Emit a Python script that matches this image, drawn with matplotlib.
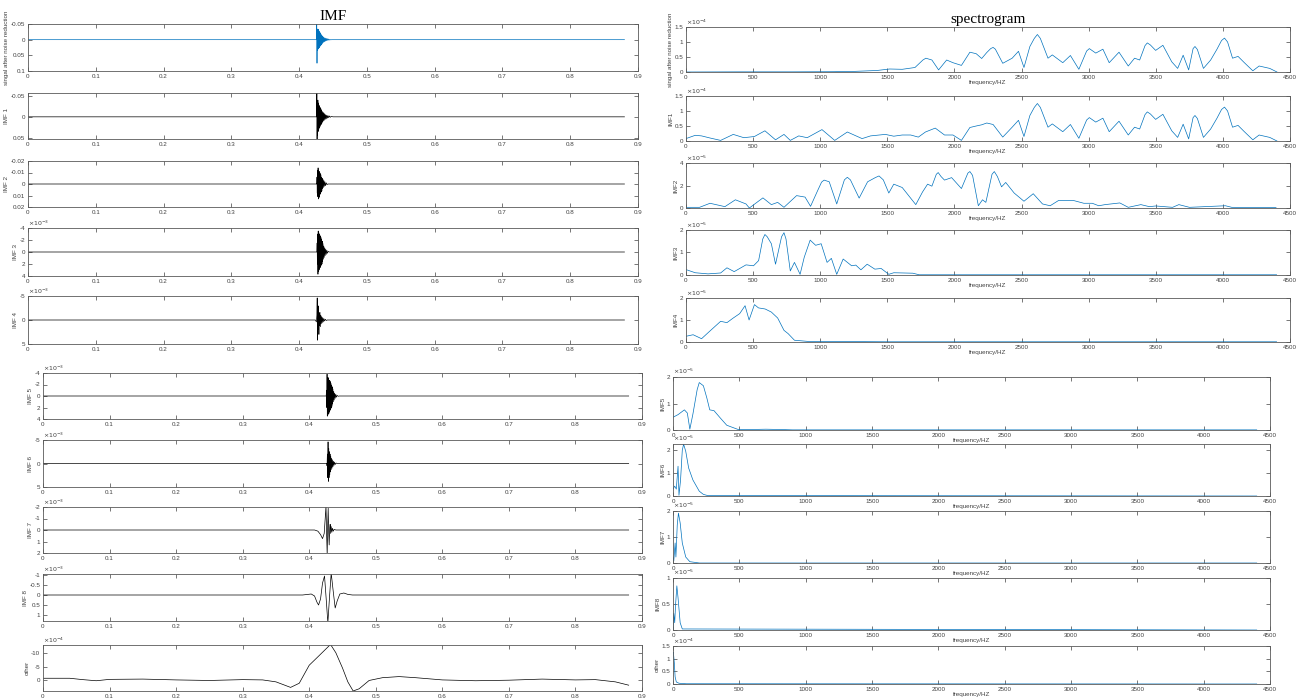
import matplotlib
matplotlib.use('Agg')
import matplotlib.pyplot as plt

plt.rcParams['font.family'] = ['Liberation Sans', 'DejaVu Sans']

# ==================== time-domain data (left column) ====================
# (time s, amplitude) points; values in the units shown on each axis
SIG = [(0, 0), (0.4255, 0), (0.4260, -0.055), (0.4264, 0.075), (0.4268, -0.03), (0.4272, 0.035),
       (0.4276, -0.034), (0.4280, 0.03), (0.4284, -0.032), (0.4288, 0.028), (0.4292, -0.028),
       (0.4296, 0.026), (0.4300, -0.025), (0.4305, 0.022), (0.4310, -0.022), (0.4315, 0.02),
       (0.4320, -0.018), (0.4325, 0.017), (0.4330, -0.015), (0.4335, 0.014), (0.4340, -0.012),
       (0.4345, 0.011), (0.4350, -0.01), (0.4356, 0.009), (0.4362, -0.008), (0.4368, 0.007),
       (0.4374, -0.006), (0.4380, 0.006), (0.4387, -0.005), (0.4394, 0.004), (0.4401, -0.004),
       (0.4408, 0.003), (0.4416, -0.003), (0.4424, 0.002), (0.4432, -0.002), (0.4442, 0.0015),
       (0.4452, -0.001), (0.4465, 0.0005), (0.4480, 0), (0.88, 0)]

IMF1 = [(0, 0), (0.4258, 0), (0.4262, -0.07), (0.4265, 0.07), (0.4269, -0.035), (0.4273, 0.045),
        (0.4277, -0.04), (0.4281, 0.035), (0.4285, -0.033), (0.4289, 0.03), (0.4293, -0.028),
        (0.4297, 0.027), (0.4301, -0.025), (0.4306, 0.024), (0.4311, -0.022), (0.4316, 0.02),
        (0.4321, -0.019), (0.4326, 0.018), (0.4331, -0.016), (0.4336, 0.015), (0.4341, -0.013),
        (0.4347, 0.012), (0.4353, -0.011), (0.4359, 0.01), (0.4365, -0.009), (0.4371, 0.008),
        (0.4378, -0.007), (0.4385, 0.006), (0.4392, -0.005), (0.4400, 0.005), (0.4408, -0.004),
        (0.4417, 0.003), (0.4426, -0.003), (0.4436, 0.002), (0.4447, -0.002), (0.4460, 0.001),
        (0.4475, -0.001), (0.4500, 0), (0.88, 0)]

IMF2 = [(0, 0), (0.4260, 0), (0.4264, -0.006), (0.4268, 0.008), (0.4272, -0.012), (0.4276, 0.011),
        (0.4280, -0.014), (0.4284, 0.013), (0.4288, -0.012), (0.4292, 0.012), (0.4296, -0.011),
        (0.4300, 0.011), (0.4304, -0.01), (0.4308, 0.009), (0.4312, -0.009), (0.4316, 0.008),
        (0.4320, -0.008), (0.4325, 0.007), (0.4330, -0.006), (0.4335, 0.006), (0.4340, -0.005),
        (0.4346, 0.004), (0.4352, -0.004), (0.4358, 0.003), (0.4365, -0.003), (0.4372, 0.002),
        (0.4380, -0.002), (0.4390, 0.0015), (0.4400, -0.001), (0.4412, 0.0005), (0.4425, 0), (0.88, 0)]

IMF3 = [(0, 0), (0.4262, 0), (0.4266, -1.5), (0.4270, 2.0), (0.4274, -3.0), (0.4278, 3.7),
        (0.4282, -3.5), (0.4286, 3.2), (0.4290, -3.2), (0.4294, 3.0), (0.4298, -3.0), (0.4302, 2.8),
        (0.4306, -2.8), (0.4310, 2.6), (0.4314, -2.6), (0.4318, 2.4), (0.4322, -2.4), (0.4327, 2.2),
        (0.4332, -2.1), (0.4337, 2.0), (0.4342, -1.8), (0.4347, 1.6), (0.4352, -1.4), (0.4358, 1.2),
        (0.4364, -1.0), (0.4370, 0.9), (0.4377, -0.7), (0.4384, 0.6), (0.4392, -0.5), (0.4400, 0.4),
        (0.4409, -0.3), (0.4418, 0.2), (0.4430, -0.1), (0.4445, 0), (0.88, 0)]

IMF4 = [(0, 0), (0.4240, 0), (0.4255, 0.4), (0.4262, -1.0), (0.4267, -4.6), (0.4272, 4.2),
        (0.4277, -3.0), (0.4282, 2.0), (0.4287, -2.8), (0.4292, 3.0), (0.4297, -1.5), (0.4302, 1.2),
        (0.4308, -1.6), (0.4314, 1.4), (0.4320, -1.0), (0.4326, 0.8), (0.4333, -0.7), (0.4340, 0.6),
        (0.4348, -0.5), (0.4356, 0.4), (0.4365, -0.3), (0.4375, 0.2), (0.4387, -0.15), (0.4400, 0.1),
        (0.4415, 0), (0.88, 0)]

IMF5 = [(0, 0), (0.4255, 0), (0.4260, -1.0), (0.4264, 2.0), (0.4268, -3.8), (0.4272, 3.5),
        (0.4276, -3.0), (0.4280, 3.3), (0.4284, -3.2), (0.4288, 3.0), (0.4292, -3.0), (0.4296, 3.0),
        (0.4300, -2.7), (0.4304, 2.7), (0.4308, -2.7), (0.4312, 2.5), (0.4316, -2.5), (0.4320, 2.3),
        (0.4325, -2.2), (0.4330, 2.1), (0.4335, -1.9), (0.4340, 1.8), (0.4345, -1.6), (0.4350, 1.4),
        (0.4356, -1.2), (0.4362, 1.0), (0.4368, -0.8), (0.4375, 0.7), (0.4382, -0.5), (0.4390, 0.4),
        (0.4399, -0.3), (0.4408, 0.2), (0.4420, -0.1), (0.4435, 0.05), (0.4450, 0), (0.88, 0)]

IMF6 = [(0, 0), (0.4262, 0), (0.4268, 0.5), (0.4273, -2.0), (0.4278, 3.0), (0.4283, -4.6),
        (0.4288, 3.8), (0.4293, -3.2), (0.4298, 3.0), (0.4303, -2.5), (0.4308, 2.4), (0.4313, -2.0),
        (0.4318, 1.8), (0.4324, -1.5), (0.4330, 1.3), (0.4336, -1.1), (0.4342, 1.0), (0.4349, -0.8),
        (0.4356, 0.7), (0.4364, -0.5), (0.4372, 0.4), (0.4381, -0.3), (0.4391, 0.2), (0.4405, -0.1),
        (0.4420, 0), (0.88, 0)]

IMF7 = [(0, 0), (0.4080, 0), (0.4130, 0.1), (0.4170, 0.4), (0.4200, 0.75), (0.4225, 0.3),
        (0.4240, -1.0), (0.4252, -2.1), (0.4262, 0.5), (0.4270, 2.2), (0.4278, -0.5), (0.4285, -1.9),
        (0.4293, 0.3), (0.4300, 1.3), (0.4308, -0.2), (0.4315, -0.5), (0.4322, 0.3), (0.4330, -0.3),
        (0.4340, 0.2), (0.4350, -0.15), (0.4362, 0.1), (0.4375, -0.05), (0.4400, 0), (0.88, 0)]

IMF8 = [(0, 0), (0.390, 0), (0.398, -0.03), (0.403, -0.05), (0.408, 0.05), (0.4115, 0.35),
        (0.414, 0.5), (0.417, 0.2), (0.420, -0.6), (0.423, -0.95), (0.4255, 0.2), (0.428, 1.4),
        (0.4305, 0.1), (0.433, -1.1), (0.436, -0.2), (0.439, 0.65), (0.442, 0.3), (0.446, -0.05),
        (0.452, -0.1), (0.458, -0.03), (0.465, 0), (0.88, 0)]

OTHER = [(0, -0.8), (0.04, -0.8), (0.06, -0.3), (0.08, 0.1), (0.10, -0.4), (0.15, -0.5),
         (0.20, -0.2), (0.25, 0.0), (0.30, -0.3), (0.33, -0.2), (0.35, 0.5), (0.372, 2.5),
         (0.385, 1.0), (0.40, -5.5), (0.415, -9.0), (0.432, -13.0), (0.440, -10.0), (0.450, -4.5),
         (0.458, 0.5), (0.466, 3.8), (0.475, 3.0), (0.49, 0.0), (0.51, -1.0), (0.535, -1.4),
         (0.56, -1.0), (0.60, -0.2), (0.65, 0.1), (0.70, -0.1), (0.75, -0.5), (0.80, -0.2),
         (0.83, -0.3), (0.86, 0.5), (0.88, 1.7)]

# ==================== spectra (right column) ====================
# (frequency Hz, magnitude) points
SPEC_SIG = [(0, 0), (400, 0.005), (800, 0.005), (1100, 0.01), (1250, 0.02), (1422, 0.05), (1517, 0.1),
            (1611, 0.09), (1706, 0.15), (1765, 0.4), (1787, 0.46), (1832, 0.4), (1882, 0.07),
            (1942, 0.4), (1989, 0.31), (2052, 0.22), (2115, 0.66), (2162, 0.61), (2203, 0.45),
            (2241, 0.65), (2270, 0.78), (2288, 0.82), (2305, 0.76), (2360, 0.29), (2430, 0.46),
            (2477, 0.69), (2518, 0.15), (2562, 0.85), (2595, 1.12), (2618, 1.25), (2640, 1.12),
            (2697, 0.46), (2729, 0.57), (2807, 0.31), (2864, 0.55), (2927, 0.09), (2985, 0.7),
            (3005, 0.78), (3053, 0.63), (3106, 0.76), (3153, 0.31), (3226, 0.66), (3295, 0.2),
            (3342, 0.46), (3380, 0.4), (3420, 0.88), (3437, 0.97), (3460, 0.9), (3499, 0.72),
            (3553, 0.89), (3619, 0.34), (3663, 0.12), (3704, 0.56), (3745, 0.07), (3778, 0.78),
            (3792, 0.85), (3810, 0.75), (3855, 0.12), (3909, 0.4), (3956, 0.76), (3990, 1.05),
            (4012, 1.13), (4035, 1.0), (4072, 0.46), (4113, 0.52), (4160, 0.31), (4223, 0.04),
            (4270, 0.2), (4349, 0.12), (4403, 0)]

SPEC_IMF1 = [(0, 0.08), (69, 0.19), (116, 0.17), (179, 0.1), (258, 0.02), (352, 0.22), (431, 0.11),
             (510, 0.15), (588, 0.34), (667, 0.04), (730, 0.22), (777, 0.02), (840, 0.17), (903, 0.11),
             (1013, 0.38), (1108, 0.02), (1202, 0.3), (1312, 0.08), (1375, 0.17), (1485, 0.22),
             (1548, 0.16), (1611, 0.2), (1674, 0.2), (1731, 0.13), (1784, 0.3), (1857, 0.43),
             (1926, 0.2), (1989, 0.2), (2052, 0.02), (2115, 0.45), (2162, 0.5), (2203, 0.54),
             (2241, 0.6), (2288, 0.55), (2360, 0.13), (2430, 0.46), (2477, 0.69), (2518, 0.15),
             (2562, 0.85), (2595, 1.12), (2618, 1.25), (2640, 1.12), (2697, 0.46), (2729, 0.57),
             (2807, 0.31), (2864, 0.55), (2927, 0.09), (2985, 0.7), (3005, 0.78), (3053, 0.63),
             (3106, 0.76), (3153, 0.31), (3226, 0.66), (3295, 0.2), (3342, 0.46), (3380, 0.4),
             (3420, 0.88), (3437, 0.97), (3460, 0.9), (3499, 0.72), (3553, 0.89), (3619, 0.34),
             (3663, 0.12), (3704, 0.56), (3745, 0.07), (3778, 0.78), (3792, 0.85), (3810, 0.75),
             (3855, 0.12), (3909, 0.4), (3956, 0.76), (3990, 1.05), (4012, 1.13), (4035, 1.0),
             (4072, 0.46), (4113, 0.52), (4160, 0.31), (4223, 0.04), (4270, 0.2), (4349, 0.12),
             (4403, 0)]

SPEC_IMF2 = [(0, 0.06), (101, 0.06), (179, 0.42), (290, 0.12), (368, 0.73), (447, 0.36), (472, 0.0),
             (573, 0.9), (636, 0.3), (683, 0.5), (730, 0.06), (824, 1.1), (887, 0.97), (928, 0.15),
             (982, 1.58), (1010, 2.3), (1029, 2.48), (1067, 2.33), (1123, 0.36), (1180, 2.5),
             (1202, 2.73), (1225, 2.5), (1290, 0.88), (1353, 2.33), (1410, 2.7), (1438, 2.85),
             (1470, 2.5), (1511, 1.33), (1548, 2.12), (1611, 1.82), (1712, 0.3), (1762, 1.42),
             (1800, 2.12), (1832, 1.94), (1865, 3.0), (1879, 3.15), (1900, 2.8), (1926, 2.48),
             (1979, 2.7), (2052, 1.73), (2100, 3.1), (2115, 3.24), (2135, 2.9), (2178, 0.2),
             (2209, 0.73), (2234, 0.5), (2280, 3.0), (2297, 3.24), (2320, 2.8), (2351, 1.88),
             (2382, 2.27), (2445, 1.33), (2518, 0.6), (2587, 1.27), (2656, 0.36), (2713, 0.2),
             (2776, 0.67), (2886, 0.67), (2964, 0.42), (3027, 0.42), (3075, 0.2), (3122, 0.3),
             (3232, 0.45), (3295, 0.06), (3389, 0.3), (3452, 0.12), (3500, 0.18), (3625, 0.06),
             (3672, 0.3), (3751, 0.06), (4019, 0.2), (4066, 0.06), (4396, 0.03)]

SPEC_IMF3 = [(0, 0.24), (69, 0.1), (164, 0.05), (258, 0.09), (305, 0.32), (359, 0.15), (447, 0.45),
             (503, 0.41), (541, 0.64), (572, 1.6), (588, 1.8), (605, 1.7), (636, 1.39), (667, 0.48),
             (712, 1.7), (730, 1.88), (745, 1.6), (777, 0.18), (808, 0.56), (850, 0.03), (881, 0.79),
             (925, 1.55), (966, 1.32), (1007, 1.39), (1051, 0.56), (1083, 0.74), (1123, 0.03),
             (1171, 0.71), (1234, 0.41), (1265, 0.44), (1303, 0.23), (1350, 0.48), (1407, 0.26),
             (1454, 0.29), (1511, 0.03), (1548, 0.1), (1690, 0.08), (1737, 0.01), (2500, 0.01),
             (4400, 0.01)]

SPEC_IMF4 = [(0, 0.26), (53, 0.33), (116, 0.15), (164, 0.42), (211, 0.68), (258, 0.94), (305, 0.88),
             (352, 1.09), (400, 1.29), (440, 1.65), (470, 1.0), (510, 1.7), (540, 1.55), (590, 1.5),
             (636, 1.36), (683, 1.09), (730, 0.53), (761, 0.38), (808, 0.08), (903, 0.03),
             (1500, 0.01), (4400, 0.01)]

SPEC_IMF5 = [(0, 0.48), (38, 0.58), (70, 0.7), (86, 0.76), (108, 0.64), (127, 0.03), (150, 0.6),
             (182, 1.52), (198, 1.79), (229, 1.67), (255, 1.21), (277, 0.76), (309, 0.73),
             (357, 0.45), (405, 0.18), (453, 0.09), (491, 0.02), (600, 0.02), (700, 0.03),
             (800, 0.02), (900, 0.005), (4400, 0.005)]

SPEC_IMF6 = [(0, 0.3), (13, 0.43), (25, 0.3), (38, 1.3), (45, 0.03), (57, 0.7), (70, 2.0), (80, 2.26),
             (96, 1.95), (118, 1.22), (150, 0.7), (198, 0.21), (229, 0.07), (261, 0.02), (4400, 0.0)]

SPEC_IMF7 = [(0, 0.23), (6, 0.08), (16, 0.77), (22, 0.23), (32, 1.46), (41, 1.92), (54, 1.54),
             (70, 0.77), (96, 0.23), (127, 0.05), (200, 0.0), (4400, 0.0)]

SPEC_IMF8 = [(0, 0.02), (6, 0.32), (13, 0.14), (19, 0.47), (29, 0.85), (38, 0.62), (54, 0.14),
             (70, 0.02), (4400, 0)]

SPEC_OTHER = [(0, 1.22), (3, 1.25), (10, 0.83), (16, 0.28), (25, 0.08), (45, 0.03), (100, 0.01),
              (4400, 0)]

# labels, axis limits, ticks, exponent
LEFT_ROWS = [
    ('singal after noise reduction', SIG, (-0.05, 0.1), [-0.05, 0, 0.05, 0.1], ['-0.05', '0', '0.05', '0.1'], None),
    ('IMF 1', IMF1, (-0.057, 0.053), [-0.05, 0, 0.05], ['-0.05', '0', '0.05'], None),
    ('IMF 2', IMF2, (-0.02, 0.02), [-0.02, -0.01, 0, 0.01, 0.02], ['-0.02', '-0.01', '0', '0.01', '0.02'], None),
    ('IMF 3', IMF3, (-4, 4), [-4, -2, 0, 2, 4], ['-4', '-2', '0', '2', '4'], -3),
    ('IMF 4', IMF4, (-5, 5), [-5, 0, 5], ['-5', '0', '5'], -3),
    ('IMF 5', IMF5, (-4, 4), [-4, -2, 0, 2, 4], ['-4', '-2', '0', '2', '4'], -3),
    ('IMF 6', IMF6, (-5, 5), [-5, 0, 5], ['-5', '0', '5'], -3),
    ('IMF 7', IMF7, (-2, 2), [-2, -1, 0, 1, 2], ['-2', '-1', '0', '1', '2'], -3),
    ('IMF 8', IMF8, (-1.05, 1.3), [-1, -0.5, 0, 0.5, 1], ['-1', '-0.5', '0', '0.5', '1'], -3),
    ('other', OTHER, (-12.8, 3.8), [-10, -5, 0], ['-10', '-5', '0'], -4),
]

RIGHT_ROWS = [
    ('singal after noise reduction', SPEC_SIG, 1.5, [0, 0.5, 1, 1.5], -4),
    ('IMF1', SPEC_IMF1, 1.5, [0, 0.5, 1, 1.5], -4),
    ('IMF2', SPEC_IMF2, 4, [0, 2, 4], -5),
    ('IMF3', SPEC_IMF3, 2, [0, 1, 2], -5),
    ('IMF4', SPEC_IMF4, 2, [0, 1, 2], -5),
    ('IMF5', SPEC_IMF5, 2, [0, 1, 2], -5),
    ('IMF6', SPEC_IMF6, 2.27, [0, 1, 2], -5),
    ('IMF7', SPEC_IMF7, 2, [0, 1, 2], -5),
    ('IMF8', SPEC_IMF8, 1, [0, 0.5, 1], -5),
    ('other', SPEC_OTHER, 1.5, [0, 0.5, 1, 1.5], -4),
]

# ==================== layout (pixels, 1304 x 700) ====================
W, H = 1304, 700
LEFT_X = [(28, 638)] * 5 + [(43, 642)] * 5
RIGHT_X = [(686, 1290)] * 5 + [(673, 1270)] * 5
LEFT_Y = [(24, 71), (93, 139), (161, 207), (228, 276), (296, 344),
          (373, 419), (440, 487), (507, 553), (574, 621), (645, 691)]
RIGHT_Y = [(27, 72), (96, 141), (163, 208), (230, 275), (298, 342),
           (377, 430), (444, 496), (511, 563), (578, 630), (646, 684)]

BLUE = '#0072BD'
AX_COLOR = '#404040'


def add_axes(fig, xs, ys):
    x0, x1 = xs
    y0, y1 = ys
    return fig.add_axes([x0 / W, 1 - y1 / H, (x1 - x0) / W, (y1 - y0) / H])


def matlab_style(ax):
    for s in ax.spines.values():
        s.set_linewidth(0.6)
        s.set_color('#5a5a5a')
    ax.tick_params(direction='in', length=3, width=0.5, labelsize=4.5, colors=AX_COLOR,
                   top=True, right=True, pad=2)


def exponent(ax, e):
    if e is not None:
        ax.text(0.0, 1.01, r'$\times10^{%d}$' % e, transform=ax.transAxes, fontsize=4.5,
                color=AX_COLOR, ha='left', va='bottom')


fig = plt.figure(figsize=(W / 100, H / 100), dpi=100)

# ==================== left column: time signals ====================
for i, (label, pts, ylim, yt, ytl, e) in enumerate(LEFT_ROWS):
    ax = add_axes(fig, LEFT_X[i], LEFT_Y[i])
    t = [p[0] for p in pts]
    v = [p[1] for p in pts]
    ax.plot(t, v, color=BLUE if i == 0 else 'black', linewidth=0.5)
    ax.set_xlim(0, 0.9)
    ax.set_xticks([0, 0.1, 0.2, 0.3, 0.4, 0.5, 0.6, 0.7, 0.8, 0.9])
    ax.set_xticklabels(['0', '0.1', '0.2', '0.3', '0.4', '0.5', '0.6', '0.7', '0.8', '0.9'])
    ax.set_ylim(ylim[1], ylim[0])   # reversed y axis
    ax.set_yticks(yt)
    ax.set_yticklabels(ytl)
    ax.set_ylabel(label, fontsize=4.5, color=AX_COLOR, labelpad=1)
    matlab_style(ax)
    exponent(ax, e)
    if i == 0:
        ax.set_title('IMF', family=['Liberation Serif', 'DejaVu Serif'], fontsize=11, pad=3)

# ==================== right column: spectra ====================
for i, (label, pts, ymax, yt, e) in enumerate(RIGHT_ROWS):
    ax = add_axes(fig, RIGHT_X[i], RIGHT_Y[i])
    f = [p[0] for p in pts]
    m = [p[1] for p in pts]
    ax.plot(f, m, color=BLUE, linewidth=0.5)
    ax.set_xlim(0, 4500)
    ax.set_xticks(range(0, 4501, 500))
    ax.set_ylim(0, ymax)
    ax.set_yticks(yt)
    ax.set_yticklabels(['%g' % y for y in yt])
    ax.set_ylabel(label, fontsize=4.5, color=AX_COLOR, labelpad=1)
    ax.set_xlabel('frequency/HZ', fontsize=4.5, color=AX_COLOR, labelpad=0)
    matlab_style(ax)
    exponent(ax, e)
    if i == 0:
        ax.set_title('spectrogram', family=['Liberation Serif', 'DejaVu Serif'], fontsize=11, pad=3)

fig.savefig('out.png', dpi=100, facecolor='white')
